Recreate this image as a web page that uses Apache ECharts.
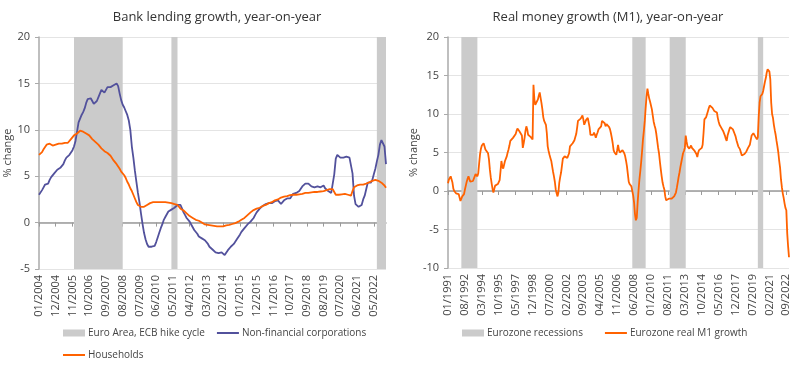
<!DOCTYPE html>
<html><head><meta charset="utf-8">
<script src="https://cdn.jsdelivr.net/npm/echarts@6/dist/echarts.min.js"></script>
<style>html,body{margin:0;padding:0;background:#fff}#c{width:800px;height:366px}</style>
</head><body><div id="c"></div>
<script>
// ---- data ----
const leftStart = [2004, 1];   // first month of left chart (01/2004)
const rightStart = [1991, 1];  // first month of right chart (01/1991)

const nfcLoans = [
  3.0, 3.2, 3.5, 3.8, 4.1, 4.3, 4.2, 4.6, 4.9, 5.1, 5.3, 5.5,
  5.7, 5.8, 5.9, 6.1, 6.3, 6.7, 7.0, 7.0, 7.3, 7.5, 7.8, 8.2,
  8.8, 9.8, 10.8, 11.2, 11.6, 11.9, 12.3, 12.9, 13.3, 13.2, 13.4, 13.1,
  12.8, 12.6, 13.1, 13.5, 13.9, 14.3, 14.2, 14.0, 14.1, 14.6, 14.7, 14.6,
  14.6, 14.8, 14.8, 15.0, 14.7, 13.9, 13.2, 12.7, 12.4, 12.0, 11.6, 11.0,
  10.0, 8.2, 7.0, 5.6, 4.4, 3.2, 2.2, 1.0, -0.1, -1.1, -1.8, -2.3,
  -2.6, -2.5, -2.6, -2.4, -2.5, -2.1, -1.6, -1.1, -0.6, -0.2, 0.3, 0.6,
  0.9, 1.2, 1.3, 1.4, 1.5, 1.6, 1.8, 1.9, 2.0, 1.9, 1.5, 1.1,
  0.8, 0.5, 0.3, 0.1, -0.2, -0.5, -0.8, -0.9, -1.2, -1.5, -1.6, -1.7,
  -1.8, -1.9, -1.9, -2.3, -2.6, -2.7, -2.9, -3.1, -3.2, -3.1, -3.3, -3.3,
  -3.2, -3.4, -3.5, -3.3, -3.0, -2.8, -2.6, -2.5, -2.3, -2.1, -1.8, -1.6,
  -1.3, -1.0, -0.8, -0.6, -0.4, -0.2, 0.0, 0.1, 0.3, 0.5, 0.8, 1.1,
  1.3, 1.5, 1.7, 1.8, 1.8, 2.0, 2.1, 2.1, 2.2, 2.1, 2.2, 2.3,
  2.3, 2.4, 2.5, 2.0, 2.2, 2.4, 2.5, 2.6, 2.8, 2.6, 2.8, 3.1,
  3.3, 3.2, 3.1, 3.4, 3.6, 3.9, 4.1, 4.2, 4.3, 4.2, 4.1, 3.9,
  3.9, 3.8, 3.9, 3.9, 4.0, 3.8, 3.9, 4.0, 3.7, 3.5, 3.4, 3.3,
  3.2, 3.0, 5.2, 6.9, 7.3, 7.2, 7.0, 7.1, 7.0, 6.9, 7.1, 7.0,
  7.0, 6.9, 5.3, 2.9, 2.0, 1.9, 1.7, 1.6, 1.9, 2.5, 2.9, 3.6,
  4.3, 4.2, 4.3, 4.6, 5.2, 5.8, 6.6, 7.3, 8.4, 8.9, 8.9, 8.2,
  6.3
];

const householdLoans = [
  7.3, 7.4, 7.6, 7.9, 8.1, 8.4, 8.4, 8.5, 8.3, 8.3, 8.4, 8.4,
  8.4, 8.5, 8.5, 8.5, 8.6, 8.6, 8.7, 8.6, 8.8, 9.0, 9.2, 9.4,
  9.4, 9.6, 9.8, 9.9, 9.9, 9.8, 9.8, 9.6, 9.5, 9.4, 9.2, 9.0,
  8.9, 8.7, 8.5, 8.4, 8.2, 8.0, 7.9, 7.7, 7.6, 7.5, 7.4, 7.2,
  7.0, 6.7, 6.5, 6.3, 6.1, 5.8, 5.5, 5.3, 5.1, 4.8, 4.4, 4.1,
  3.7, 3.4, 3.0, 2.6, 2.2, 1.9, 1.8, 1.7, 1.65, 1.7, 1.8, 1.9,
  2.0, 2.1, 2.15, 2.2, 2.2, 2.2, 2.2, 2.2, 2.2, 2.2, 2.2, 2.2,
  2.15, 2.15, 2.1, 2.1, 2.1, 2.0, 1.9, 1.9, 1.7, 1.5, 1.4, 1.3,
  1.1, 1.0, 0.9, 0.7, 0.6, 0.5, 0.4, 0.3, 0.3, 0.2, 0.1, 0.0,
  -0.1, -0.2, -0.2, -0.25, -0.3, -0.3, -0.35, -0.35, -0.35, -0.4, -0.4, -0.4,
  -0.45, -0.4, -0.35, -0.3, -0.3, -0.25, -0.2, -0.15, -0.1, -0.05, 0.05, 0.1,
  0.2, 0.3, 0.4, 0.5, 0.6, 0.8, 1.0, 1.1, 1.25, 1.35, 1.45, 1.5,
  1.55, 1.6, 1.7, 1.8, 1.85, 1.9, 2.0, 2.1, 2.15, 2.2, 2.3, 2.4,
  2.45, 2.5, 2.6, 2.7, 2.7, 2.8, 2.8, 2.85, 2.9, 2.95, 3.0, 3.0,
  2.95, 3.0, 3.0, 3.05, 3.1, 3.1, 3.15, 3.2, 3.2, 3.2, 3.25, 3.25,
  3.25, 3.3, 3.3, 3.3, 3.3, 3.35, 3.4, 3.4, 3.4, 3.5, 3.55, 3.6,
  3.7, 3.6, 3.3, 3.0, 3.0, 3.0, 3.0, 3.05, 3.1, 3.1, 3.1, 3.0,
  3.0, 2.9, 3.4, 3.8, 3.9, 4.0, 4.05, 4.1, 4.1, 4.1, 4.2, 4.2,
  4.3, 4.35, 4.4, 4.5, 4.55, 4.6, 4.6, 4.5, 4.4, 4.3, 4.15, 4.0,
  3.75
];

const realM1 = [
  1.0, 1.5, 1.6, 1.9, 1.7, 1.1, 0.3, 0.0, -0.2, -0.3, -0.4, -0.4,
  -0.4, -0.6, -1.3, -1.0, -0.7, -0.5, -0.4, 0.2, 0.7, 1.2, 1.6, 1.9,
  1.7, 1.2, 1.0, 1.2, 1.3, 1.5, 1.9, 2.2, 2.0, 1.9, 2.3, 3.6,
  4.8, 5.5, 5.9, 6.1, 6.2, 5.8, 5.4, 5.4, 5.3, 4.9, 4.1, 2.8,
  1.8, 1.0, 0.3, -0.2, 0.3, 0.7, 0.8, 0.9, 0.9, 1.1, 1.4, 2.6,
  3.9, 3.2, 2.9, 3.4, 3.9, 4.1, 4.5, 5.0, 5.4, 5.9, 6.5, 6.6,
  6.7, 6.9, 7.0, 7.0, 7.4, 7.8, 8.1, 7.9, 7.8, 7.9, 8.0, 7.2,
  5.6, 6.2, 6.9, 7.8, 8.4, 8.0, 7.3, 7.2, 7.1, 7.0, 6.8, 6.7,
  13.8, 11.9, 11.2, 11.3, 11.4, 11.9, 12.4, 12.8, 12.1, 11.4, 10.6, 9.6,
  9.1, 8.9, 8.6, 7.5, 5.8, 5.2, 4.7, 4.3, 3.9, 3.2, 2.5, 1.9,
  1.2, 0.2, -0.3, -0.7, -0.2, 1.1, 1.8, 2.4, 3.3, 4.2, 4.4, 4.5,
  4.4, 4.5, 4.3, 4.1, 4.9, 5.8, 5.9, 6.0, 6.2, 6.3, 6.6, 7.0,
  7.4, 8.2, 9.1, 9.2, 9.3, 9.4, 9.6, 9.8, 9.3, 8.6, 8.9, 9.2,
  9.3, 9.5, 9.6, 8.3, 7.3, 7.4, 7.2, 7.3, 7.6, 7.3, 6.9, 7.3,
  7.6, 8.0, 8.1, 8.0, 8.4, 9.1, 9.2, 9.3, 8.8, 8.4, 8.7, 8.6,
  8.6, 8.3, 8.0, 7.5, 6.9, 6.2, 5.3, 5.0, 4.8, 4.7, 5.3, 6.0,
  5.3, 5.0, 4.9, 4.8, 5.3, 5.2, 4.9, 4.5, 3.9, 3.2, 2.2, 1.2,
  0.9, 0.7, 0.6, 0.0, -0.6, -1.5, -3.0, -3.8, -3.5, -1.5, 0.1, 1.5,
  2.6, 3.8, 5.2, 6.7, 7.8, 9.1, 10.8, 12.3, 13.3, 12.6, 12.0, 11.6,
  11.4, 10.6, 9.8, 9.0, 8.5, 8.1, 7.4, 6.5, 5.6, 4.9, 3.8, 2.8,
  1.9, 1.1, 0.6, 0.2, -0.7, -1.2, -1.3, -1.3, -1.0, -1.1, -1.0, -1.0,
  -1.0, -0.9, -0.7, -0.5, -0.2, 0.4, 1.1, 1.8, 2.4, 3.1, 3.7, 4.3,
  4.9, 5.2, 5.6, 7.2, 6.4, 5.8, 5.6, 5.5, 5.7, 5.9, 5.6, 5.4,
  5.4, 5.2, 5.0, 4.8, 4.4, 5.0, 5.3, 5.2, 5.4, 5.6, 6.0, 7.5,
  9.3, 9.5, 9.6, 10.0, 10.4, 10.8, 11.1, 11.0, 10.9, 10.8, 10.6, 10.4,
  10.5, 10.6, 10.2, 9.5, 9.0, 8.6, 8.4, 8.2, 8.0, 7.8, 7.6, 7.2,
  6.8, 6.5, 7.2, 7.6, 8.0, 8.3, 8.2, 8.1, 8.0, 7.8, 7.4, 7.1,
  6.6, 6.2, 5.8, 5.6, 5.4, 5.0, 4.6, 4.5, 4.7, 4.8, 4.9, 5.1,
  5.3, 5.6, 5.8, 6.0, 6.6, 7.2, 7.4, 7.5, 7.3, 7.1, 6.9, 6.7,
  7.0, 9.7, 11.5, 12.3, 12.5, 12.6, 13.0, 13.6, 14.2, 14.7, 15.4, 15.8,
  15.7, 15.5, 14.5, 11.5, 10.0, 9.5, 8.6, 7.9, 7.3, 6.5, 5.8, 5.0,
  3.9, 3.0, 1.5, 0.5, -0.3, -0.9, -1.6, -2.2, -2.5, -5.5, -7.2, -8.6
];

// shaded periods [start, end]
const hikeStarts = ['12/2005', '04/2011', '07/2022'];
const hikeEnds   = ['08/2008', '08/2011', '01/2023'];
const recStarts  = ['04/1992', '04/2008', '10/2011', '01/2020'];
const recEnds    = ['10/1993', '07/2009', '04/2013', '07/2020'];

const leftYTicks = [-5, 0, 5, 10, 15, 20];
const rightYTicks = [-10, -5, 0, 5, 10, 15, 20];

function monthLabels(start, n) {
  const out = [];
  for (let i = 0; i < n; i++) {
    const k = start[1] - 1 + i;
    const m = k % 12 + 1;
    const y = start[0] + Math.floor(k / 12);
    out.push(String(m).padStart(2, '0') + '/' + y);
  }
  return out;
}
const catsL = monthLabels(leftStart, nfcLoans.length);
const catsR = monthLabels(rightStart, realM1.length);

// ---- style ----
const FONT = 'Open Sans';
const TXT = '#444';
const BLUE = '#52519c';
const ORANGE = '#ff6200';
const SHADE = '#cbcbcb';
const LINE_ICON = 'path://M0,0L22,0L22,2L0,2Z';

function labelAxis(grid, cats, interval) {
  return {
    gridIndex: grid, type: 'category', data: cats, boundaryGap: false, position: 'bottom',
    axisLine: { show: false, onZero: false }, axisTick: { show: false },
    axisLabel: { rotate: 90, interval: interval, fontSize: 11, color: TXT, fontFamily: FONT, margin: 6 },
    splitLine: { show: false }
  };
}
function zeroAxis(grid, cats, interval) {
  return {
    gridIndex: grid, type: 'category', data: cats, boundaryGap: false, position: 'bottom',
    axisLine: { show: true, onZero: true, lineStyle: { color: '#9a9a9a', width: 1.5 } },
    axisTick: { show: true, interval: interval, length: 4, lineStyle: { color: '#9a9a9a', width: 1 } },
    axisLabel: { show: false }, splitLine: { show: false }
  };
}
function valAxis(grid, ticks, gap) {
  return {
    gridIndex: grid, type: 'value', min: ticks[0], max: ticks[ticks.length - 1],
    interval: ticks[1] - ticks[0],
    name: '% change', nameLocation: 'middle', nameGap: gap,
    nameTextStyle: { fontSize: 11, color: TXT, fontFamily: FONT },
    axisLine: { show: true, lineStyle: { color: '#aaaaaa', width: 1.5 } },
    axisTick: { show: true, length: 4, lineStyle: { color: '#aaaaaa' } },
    axisLabel: { fontSize: 11, color: TXT, fontFamily: FONT, margin: 9 },
    splitLine: { show: true, lineStyle: { color: '#e4e4e4', width: 1 } }
  };
}
function bands(starts, ends) {
  return starts.map((s, i) => [{ xAxis: s }, { xAxis: ends[i] }]);
}
const legendBase = {
  itemWidth: 22, itemHeight: 7, itemGap: 12, padding: 0, symbolKeepAspect: true,
  textStyle: { fontSize: 10, color: TXT, fontFamily: FONT, padding: [0, 0, 0, -2] }
};

const option = {
  animation: false,
  backgroundColor: '#fff',
  textStyle: { fontFamily: FONT },
  title: [
    { text: 'Bank lending growth, year-on-year', left: 212, top: 6, textAlign: 'center',
      textStyle: { fontSize: 13, fontWeight: 'normal', color: '#333', fontFamily: FONT } },
    { text: 'Real money growth (M1), year-on-year', left: 603, top: 6, textAlign: 'center',
      textStyle: { fontSize: 13, fontWeight: 'normal', color: '#333', fontFamily: FONT } }
  ],
  grid: [
    { left: 39, top: 37, width: 347, height: 232 },
    { left: 448, top: 37, width: 341, height: 231 }
  ],
  xAxis: [
    labelAxis(0, catsL, 10), zeroAxis(0, catsL, 10),
    labelAxis(1, catsR, 18), zeroAxis(1, catsR, 18)
  ],
  yAxis: [valAxis(0, leftYTicks, 22), valAxis(1, rightYTicks, 28)],
  legend: [
    Object.assign({}, legendBase, { left: 63, top: 328,
      data: [{ name: 'Euro Area, ECB hike cycle', icon: 'rect' }, { name: 'Non-financial corporations', icon: LINE_ICON }] }),
    Object.assign({}, legendBase, { left: 63, top: 350, data: [{ name: 'Households', icon: LINE_ICON }] }),
    Object.assign({}, legendBase, { left: 462, top: 328, itemGap: 22,
      data: [{ name: 'Eurozone recessions', icon: 'rect' }, { name: 'Eurozone real M1 growth', icon: LINE_ICON }] })
  ],
  series: [
    { name: 'Euro Area, ECB hike cycle', type: 'line', xAxisIndex: 0, yAxisIndex: 0, data: [],
      symbol: 'none', itemStyle: { color: SHADE }, lineStyle: { color: SHADE },
      markArea: { silent: true, itemStyle: { color: SHADE }, data: bands(hikeStarts, hikeEnds) } },
    { name: 'Non-financial corporations', type: 'line', xAxisIndex: 0, yAxisIndex: 0, data: nfcLoans,
      symbol: 'none', lineStyle: { color: BLUE, width: 1.8 }, itemStyle: { color: BLUE } },
    { name: 'Households', type: 'line', xAxisIndex: 0, yAxisIndex: 0, data: householdLoans,
      symbol: 'none', lineStyle: { color: ORANGE, width: 1.8 }, itemStyle: { color: ORANGE } },
    { name: 'Eurozone recessions', type: 'line', xAxisIndex: 2, yAxisIndex: 1, data: [],
      symbol: 'none', itemStyle: { color: SHADE }, lineStyle: { color: SHADE },
      markArea: { silent: true, itemStyle: { color: SHADE }, data: bands(recStarts, recEnds) } },
    { name: 'Eurozone real M1 growth', type: 'line', xAxisIndex: 2, yAxisIndex: 1, data: realM1,
      symbol: 'none', lineStyle: { color: ORANGE, width: 1.8 }, itemStyle: { color: ORANGE } }
  ]
};
const chart = echarts.init(document.getElementById('c'), null, { renderer: 'canvas' });
chart.setOption(option);
</script></body></html>
